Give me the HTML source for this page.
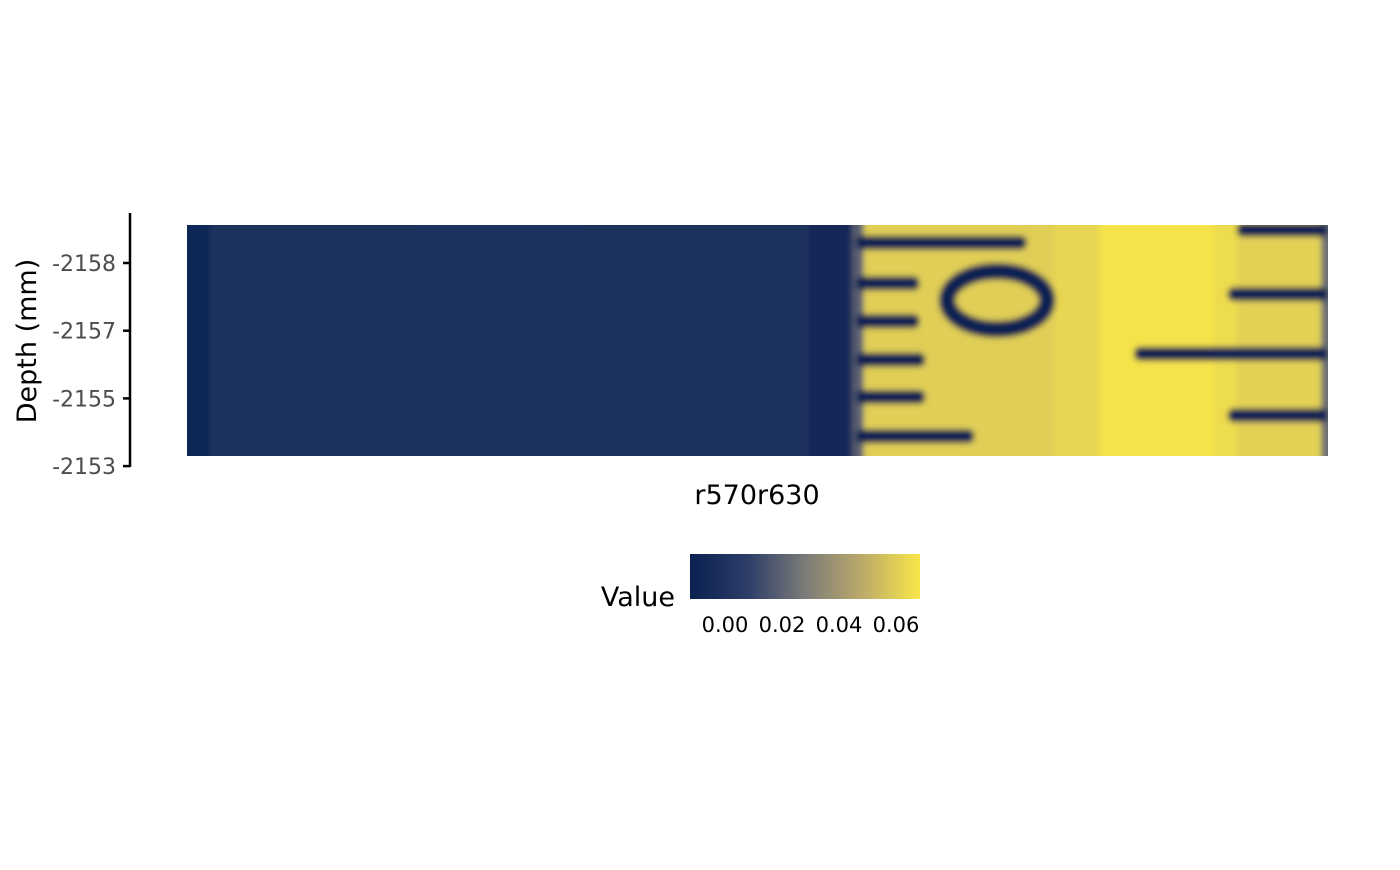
<!DOCTYPE html>
<html><head><meta charset="utf-8"><style>
body{margin:0;background:#fff;}
svg text{font-family:"DejaVu Sans","Liberation Sans",sans-serif;}
</style></head><body>
<svg id="chart" width="1400" height="865" viewBox="0 0 1400 865" xmlns="http://www.w3.org/2000/svg">
<defs>
<linearGradient id="lg" x1="0" x2="1" y1="0" y2="0">
<stop offset="0" stop-color="#0b2150"/><stop offset="0.25" stop-color="#2c3d68"/><stop offset="0.5" stop-color="#7b7b78"/><stop offset="0.75" stop-color="#bcaa6a"/><stop offset="1" stop-color="#f9e749"/>
</linearGradient>
<filter id="blur" x="-5%" y="-5%" width="110%" height="110%"><feGaussianBlur stdDeviation="3"/></filter>
<clipPath id="clip"><rect x="187" y="225" width="1141" height="231"/></clipPath>
</defs>
<g id="heat" clip-path="url(#clip)"><g id="heatInner" filter="url(#blur)"></g></g>
<g id="yaxis"></g>
<text x="757" y="504" text-anchor="middle" font-size="27" fill="#000">r570r630</text>
<text transform="translate(36,341) rotate(-90)" text-anchor="middle" font-size="27" fill="#000">Depth (mm)</text>
<g>
<text x="675" y="606" text-anchor="end" font-size="27" fill="#000">Value</text>
<rect x="690" y="554" width="230" height="45" fill="url(#lg)"/>
<g id="legTicks"></g>
</g>
</svg>
<script>
// y-axis ticks
const tickDepths=[-2158,-2157,-2156,-2155];
const tickLabels=["-2158","-2157","-2155","-2153"];
// background columns: x position in units 0..100 across the strip, value
const colStarts=[0,2,20,35,50,54.5,58.3,59.3,76,80,90,92,99.4];
const colValues=[0.003,0.009,0.010,0.009,0.009,0.004,0.026,0.060,0.062,0.066,0.064,0.061,0.03];
// ruler marks: depth (mm), start x, end x (units 0..100)
const markDepth=[-2158.3,-2157.7,-2157.14,-2156.57,-2156.02,-2155.44,-2158.49,-2157.54,-2156.66,-2155.75];
const markX0=[58.6,58.6,58.6,58.6,58.6,58.6,92,91.2,83,91.2];
const markX1=[73.6,64.2,64.2,64.7,64.7,69,100,100,100,100];
const markValue=[0.002,0.002,0.002,0.002,0.002,0.002,0.002,0.002,0.002,0.002];
// digit "0" ring
const ringDepth=-2157.45, ringX=71, ringValue=0.002;
const legVals=[0,0.02,0.04,0.06];
const legLabels=["0.00","0.02","0.04","0.06"];

const NS="http://www.w3.org/2000/svg";
const xS=u=>187+u*11.41;
const yS=d=>263+(d+2158)*67.7;
const vMax=0.067;
const stops=[[11,33,80],[44,61,104],[123,123,120],[188,170,106],[249,231,73]];
function col(v){
  let t=Math.max(0,Math.min(1,v/vMax))*4;
  let i=Math.min(3,Math.floor(t)), s=t-i;
  const p=stops[i],q=stops[i+1];
  return `rgb(${p.map((x,k)=>Math.round(x+(q[k]-x)*s)).join(',')})`;
}
const heat=document.getElementById('heatInner');
for(let i=0;i<colStarts.length;i++){
  const r=document.createElementNS(NS,'rect');
  const x0=i===0?177:xS(colStarts[i]), x1=i<colStarts.length-1?xS(colStarts[i+1]):xS(100)+10;
  r.setAttribute('x',x0);r.setAttribute('y',215);r.setAttribute('width',x1-x0+0.5);r.setAttribute('height',250);
  r.setAttribute('fill',col(colValues[i]));
  
  
  heat.appendChild(r);
}
for(let i=0;i<markDepth.length;i++){
  const r=document.createElementNS(NS,'rect');
  const y=yS(markDepth[i]);
  r.setAttribute('x',xS(markX0[i]));r.setAttribute('y',y-7);
  r.setAttribute('width',xS(markX1[i])-xS(markX0[i]));r.setAttribute('height',14);r.setAttribute('rx',6);
  r.setAttribute('fill',col(markValue[i]));
  
  
  heat.appendChild(r);
}
const ring=document.createElementNS(NS,'ellipse');
ring.setAttribute('cx',xS(ringX));ring.setAttribute('cy',yS(ringDepth));
ring.setAttribute('rx',50);ring.setAttribute('ry',29);
ring.setAttribute('fill','none');ring.setAttribute('stroke',col(ringValue));ring.setAttribute('stroke-width',17);


heat.appendChild(ring);

const ya=document.getElementById('yaxis');
const ln=document.createElementNS(NS,'line');
ln.setAttribute('x1',130);ln.setAttribute('x2',130);ln.setAttribute('y1',213);ln.setAttribute('y2',467);
ln.setAttribute('stroke','#000');ln.setAttribute('stroke-width',2.5);


ya.appendChild(ln);
tickDepths.forEach((d,i)=>{
  const y=yS(d);
  const t=document.createElementNS(NS,'line');
  t.setAttribute('x1',123);t.setAttribute('x2',130);t.setAttribute('y1',y);t.setAttribute('y2',y);
  t.setAttribute('stroke','#000');t.setAttribute('stroke-width',2.5);
  
  
  ya.appendChild(t);
  const tx=document.createElementNS(NS,'text');
  tx.setAttribute('x',116);tx.setAttribute('y',y+8);tx.setAttribute('text-anchor','end');
  tx.setAttribute('font-size','22');tx.setAttribute('fill','#4d4d4d');
  tx.textContent=tickLabels[i];
  
  
  ya.appendChild(tx);
});
const lt=document.getElementById('legTicks');
legVals.forEach((v,i)=>{
  const x=725+v/0.02*57;
  const tx=document.createElementNS(NS,'text');
  tx.setAttribute('x',x);tx.setAttribute('y',632);tx.setAttribute('text-anchor','middle');
  tx.setAttribute('font-size','21');tx.setAttribute('fill','#000');
  tx.textContent=legLabels[i];
  
  
  lt.appendChild(tx);
});
</script>
</body></html>
